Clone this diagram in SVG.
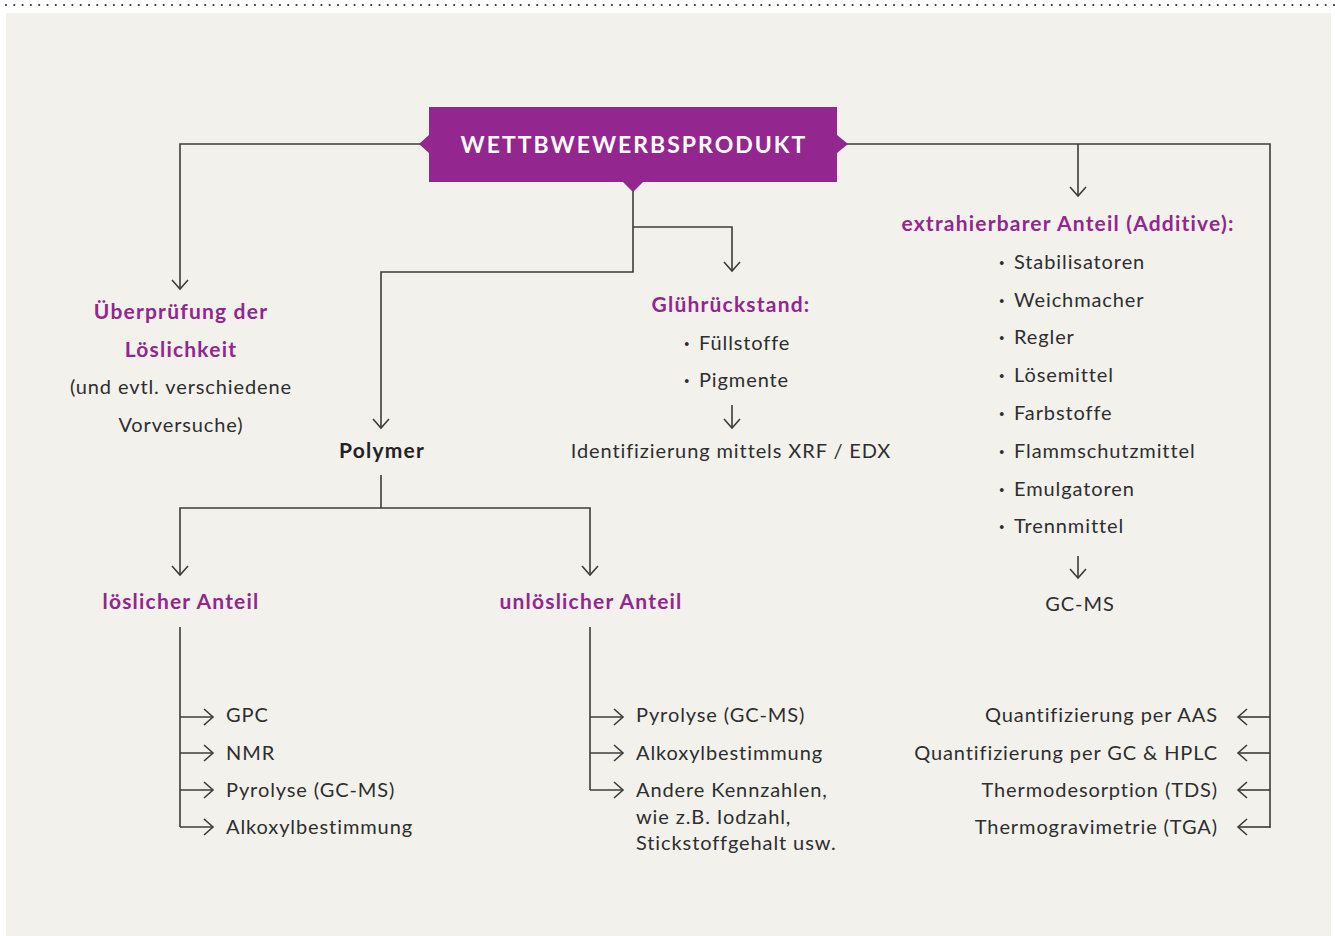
<svg xmlns="http://www.w3.org/2000/svg" width="1335" height="936" viewBox="0 0 1335 936">
<defs>
<style>
.bg{fill:#f2f1ec}
.ln{fill:none;stroke:#3c3c3c;stroke-width:1.6}
.ar{fill:none;stroke:#3c3c3c;stroke-width:1.6;marker-end:url(#chev)}
text{font-family:Lato,"Noto Sans","Liberation Sans",sans-serif;font-size:20px;fill:#2e2e2e;letter-spacing:0.9px}
.h{font-weight:bold;fill:#93268f;font-size:21px;letter-spacing:1.2px}
.b{font-weight:bold;fill:#222;font-size:21px;letter-spacing:1.2px}
.c{text-anchor:middle}
.r{text-anchor:end}
.t{font-weight:bold;fill:#fff;font-size:23px;letter-spacing:2px}
.d{font-weight:bold}
</style>
<marker id="chev" markerUnits="userSpaceOnUse" markerWidth="24" markerHeight="24" viewBox="-12 -12 24 24" refX="0" refY="0" orient="auto">
<path d="M-9,-8 L0,0 L-9,8" fill="none" stroke="#3c3c3c" stroke-width="1.6"/>
</marker>
</defs>
<rect x="0" y="0" width="1335" height="936" fill="#ffffff"/>
<rect class="bg" x="6" y="13" width="1325" height="923"/>
<line x1="6" y1="5" x2="1335" y2="5" stroke="#333" stroke-width="2.2" stroke-dasharray="0 8.3" stroke-linecap="round"/>

<g id="connectors">
<polyline class="ar" points="420,144 180,144 180,289"/>
<polyline class="ln" points="846,144 1270,144 1270,828"/>
<polyline class="ar" points="1078,144 1078,196"/>
<polyline class="ar" points="633,190 633,272 381,272 381,428"/>
<polyline class="ar" points="633,227 732,227 732,271"/>
<polyline class="ar" points="732,405 732,428"/>
<polyline class="ar" points="1078,556 1078,578"/>
<polyline class="ln" points="381,475 381,508"/>
<polyline class="ar" points="381,508 180,508 180,575"/>
<polyline class="ar" points="381,508 590,508 590,575"/>
<polyline class="ln" points="180,627 180,827"/>
<polyline class="ar" points="180,717 213,717"/>
<polyline class="ar" points="180,753 213,753"/>
<polyline class="ar" points="180,790 213,790"/>
<polyline class="ar" points="180,827 213,827"/>
<polyline class="ln" points="590,627 590,790"/>
<polyline class="ar" points="590,717 623,717"/>
<polyline class="ar" points="590,753 623,753"/>
<polyline class="ar" points="590,790 623,790"/>
<polyline class="ar" points="1270,717 1238,717"/>
<polyline class="ar" points="1270,753 1238,753"/>
<polyline class="ar" points="1270,790 1238,790"/>
<polyline class="ar" points="1270,827 1238,827"/>
</g>

<g id="wettbewerbsprodukt">
<path d="M429,107 H837 V135 L848,144 L837,153 V182 H643 L633,192 L623,182 H429 V153 L419,144 L429,135 Z" fill="#93268f"/>
<text class="t c" x="634" y="153">WETTBWEWERBSPRODUKT</text>
</g>

<g id="loeslichkeit">
<text class="h c" x="181" y="319">Überprüfung der</text>
<text class="h c" x="181" y="357">Löslichkeit</text>
<text class="c" x="181" y="394">(und evtl. verschiedene</text>
<text class="c" x="181" y="432">Vorversuche)</text>
</g>

<g id="polymer">
<text class="b c" x="382" y="458">Polymer</text>
</g>

<g id="gluehrueckstand">
<text class="h c" x="731" y="312">Glührückstand:</text>
<text x="684" y="350"><tspan class="d">·</tspan><tspan x="699">Füllstoffe</tspan></text>
<text x="684" y="387"><tspan class="d">·</tspan><tspan x="699">Pigmente</tspan></text>
</g>

<g id="xrf">
<text class="c" x="731" y="458">Identifizierung mittels XRF / EDX</text>
</g>

<g id="additive">
<text class="h c" x="1068" y="231">extrahierbarer Anteil (Additive):</text>
<text x="999" y="269"><tspan class="d">·</tspan><tspan x="1014">Stabilisatoren</tspan></text>
<text x="999" y="307"><tspan class="d">·</tspan><tspan x="1014">Weichmacher</tspan></text>
<text x="999" y="344"><tspan class="d">·</tspan><tspan x="1014">Regler</tspan></text>
<text x="999" y="382"><tspan class="d">·</tspan><tspan x="1014">Lösemittel</tspan></text>
<text x="999" y="420"><tspan class="d">·</tspan><tspan x="1014">Farbstoffe</tspan></text>
<text x="999" y="458"><tspan class="d">·</tspan><tspan x="1014">Flammschutzmittel</tspan></text>
<text x="999" y="496"><tspan class="d">·</tspan><tspan x="1014">Emulgatoren</tspan></text>
<text x="999" y="533"><tspan class="d">·</tspan><tspan x="1014">Trennmittel</tspan></text>
</g>

<g id="gcms">
<text class="c" x="1080" y="611">GC-MS</text>
</g>

<g id="loeslicher">
<text class="h c" x="181" y="609">löslicher Anteil</text>
<text x="226" y="722">GPC</text>
<text x="226" y="760">NMR</text>
<text x="226" y="797">Pyrolyse (GC-MS)</text>
<text x="226" y="834">Alkoxylbestimmung</text>
</g>

<g id="unloeslicher">
<text class="h c" x="591" y="609">unlöslicher Anteil</text>
<text x="636" y="722">Pyrolyse (GC-MS)</text>
<text x="636" y="760">Alkoxylbestimmung</text>
<text x="636" y="797">Andere Kennzahlen,</text>
<text x="636" y="824">wie z.B. Iodzahl,</text>
<text x="636" y="850">Stickstoffgehalt usw.</text>
</g>

<g id="quantifizierung">
<text class="r" x="1218" y="722">Quantifizierung per AAS</text>
<text class="r" x="1218" y="760">Quantifizierung per GC &amp; HPLC</text>
<text class="r" x="1218" y="797">Thermodesorption (TDS)</text>
<text class="r" x="1218" y="834">Thermogravimetrie (TGA)</text>
</g>
</svg>
